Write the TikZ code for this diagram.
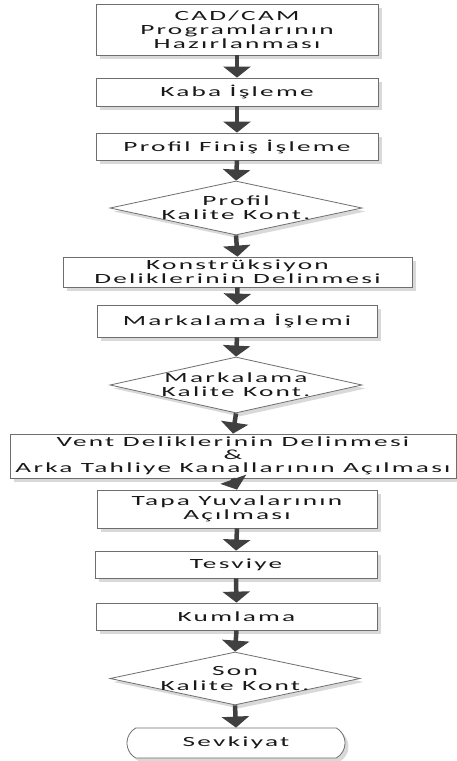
\documentclass[tikz,border=0pt]{standalone}
\usepackage{fontspec}
\setmainfont{Carlito}[FakeStretch=1.95,LetterSpace=16]
\usetikzlibrary{arrows.meta,shapes.geometric,shapes.misc,shadows}
\definecolor{edge}{HTML}{6E6E6E}
\definecolor{arrowgray}{HTML}{404040}
\definecolor{shade}{HTML}{D9D9D9}
\tikzset{
  flowshadow/.style={drop shadow={shadow xshift=3.5pt,shadow yshift=-3.5pt,fill=shade,opacity=1}},
  flowfont/.style={font=\fontsize{14}{14.2}\selectfont},
  procbox/.style={draw=edge,line width=0.8pt,fill=white,flowshadow,rectangle,
    inner sep=0pt,align=center,text=black!90,flowfont},
  decision/.style={draw=edge,line width=0.8pt,fill=white,flowshadow,diamond,inner sep=0pt},
  decisiontext/.style={align=center,text=black!90,flowfont},
  terminal/.style={draw=edge,line width=0.8pt,fill=white,flowshadow,rounded rectangle,
    rounded rectangle arc length=120,inner sep=0pt,text=black!90,flowfont},
  flowarrow/.style={draw=arrowgray,line width=4.5pt,
    -{Triangle[width=27pt,length=11pt]}},
}
\begin{document}
\begin{tikzpicture}[x=1pt,y=-1pt]
  \useasboundingbox (0,0) rectangle (457,761);
  \fill[white] (0,0) rectangle (457,761);

  \node[procbox,minimum width=282pt,minimum height=51pt] (cad) at (237,29.5)
    {CAD/CAM\\Programlarının\\Hazırlanması};
  \node[procbox,minimum width=282pt,minimum height=28pt] (kaba) at (237,92)
    {Kaba İşleme};
  \node[procbox,minimum width=282pt,minimum height=27pt] (finis) at (237,146.5)
    {Profil Finiş İşleme};
  \node[decision,minimum width=252pt,minimum height=54pt,
    label={[decisiontext]center:Profil\\Kalite Kont.}] (kk1) at (236,208) {};
  \node[procbox,minimum width=349pt,minimum height=30pt] (kons) at (237.5,272)
    {Konstrüksiyon\\Deliklerinin Delinmesi};
  \node[procbox,minimum width=280pt,minimum height=32pt] (marka) at (237,321)
    {Markalama İşlemi};
  \node[decision,minimum width=252pt,minimum height=56pt,
    label={[decisiontext]center:Markalama\\Kalite Kont.}] (kk2) at (236,385) {};
  \node[procbox,minimum width=446pt,minimum height=44pt,
    font=\fontsize{14}{13.2}\selectfont] (vent) at (233,456)
    {Vent Deliklerinin Delinmesi\\\&\\Arka Tahliye Kanallarının Açılması};
  \node[procbox,minimum width=280pt,minimum height=38pt] (tapa) at (237,509)
    {Tapa Yuvalarının\\Açılması};
  \node[procbox,minimum width=282pt,minimum height=27pt] (tesviye) at (236,564.5)
    {Tesviye};
  \node[procbox,minimum width=281pt,minimum height=27pt] (kum) at (236.5,616.5)
    {Kumlama};
  \node[decision,minimum width=250pt,minimum height=53pt,
    label={[decisiontext]center:Son\\Kalite Kont.}] (kk3) at (235,678.5) {};
  \node[terminal,minimum width=218pt,minimum height=30pt] (sevk) at (236,743)
    {Sevkiyat};

  \draw[flowarrow] (cad.south) -- (kaba.north);
  \draw[flowarrow] (kaba.south) -- (finis.north);
  \draw[flowarrow] (finis.south) -- (kk1.north);
  \draw[flowarrow] (kk1.south) -- (kons.north);
  \draw[flowarrow] (kons.south) -- (marka.north);
  \draw[flowarrow] (marka.south) -- (kk2.north);
  \draw[flowarrow] (kk2.south) -- (vent.north);
  \draw[flowarrow] (vent.south) -- (tapa.north);
  \draw[flowarrow] (tapa.south) -- (tesviye.north);
  \draw[flowarrow] (tesviye.south) -- (kum.north);
  \draw[flowarrow] (kum.south) -- (kk3.north);
  \draw[flowarrow] (kk3.south) -- (sevk.north);
\end{tikzpicture}
\end{document}
